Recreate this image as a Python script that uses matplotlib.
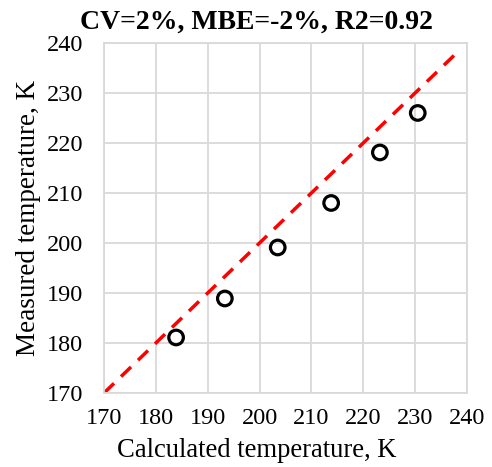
import matplotlib
matplotlib.use("Agg")
from matplotlib import pyplot as plt
import numpy as np

# data
calc = [183.9, 193.3, 203.5, 213.8, 223.2, 230.5]
meas = [181.1, 188.9, 199.1, 208.0, 218.1, 226.0]
line_x = [170, 238.5]
ticks = list(range(170, 241, 10))
title = "CV=2%, MBE=-2%, R2=0.92"

plt.rcParams['font.family'] = ['Liberation Serif', 'DejaVu Serif']

fig = plt.figure(figsize=(4.92, 4.67), dpi=100)
ax = fig.add_axes([0.2114, 0.1585, 0.7378, 0.7495])

ax.plot(line_x, line_x, color='#ff0000', lw=2.5, ls=(0, (4.0, 2.8)), zorder=2)
ax.scatter(calc, meas, s=110, facecolors='none', edgecolors='black', linewidths=2.3, zorder=3)

ax.set_xlim(170, 240)
ax.set_ylim(170, 240)
ax.set_xticks(ticks)
ax.set_yticks(ticks)
ax.grid(True, color='#d9d9d9', lw=1.3)
ax.set_axisbelow(True)
for s in ax.spines.values():
    s.set_color('#d9d9d9')
    s.set_linewidth(1.3)
ax.tick_params(length=0, labelsize=17.5)
ax.tick_params(axis='y', pad=15)
ax.tick_params(axis='x', pad=11)

# excel centres the title and x label on the chart area, not the plot area
ax.set_xlabel("Calculated temperature, K", fontsize=19.2, labelpad=6, x=0.421)
ax.set_ylabel("Measured temperature, K", fontsize=19.5, labelpad=4)
ax.set_title(title, fontsize=20, fontweight='bold', pad=10, x=0.421)

fig.savefig("out.png", dpi=100)
